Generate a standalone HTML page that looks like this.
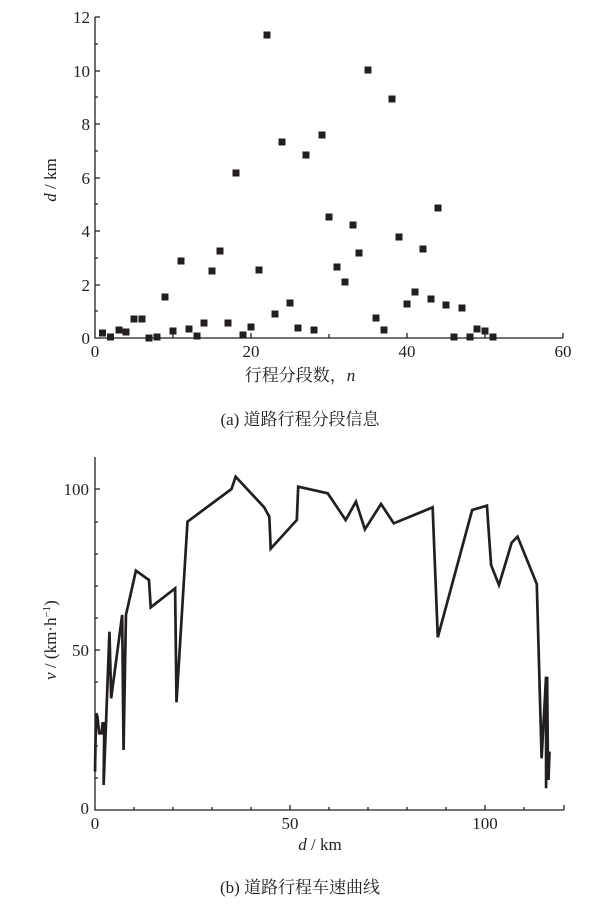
<!DOCTYPE html>
<html><head><meta charset="utf-8"><style>
body{margin:0;background:#fff;}
svg{display:block;font-family:"Liberation Serif","Noto Serif CJK SC",serif;}
.c{font-family:"Liberation Serif","Noto Serif CJK SC","Noto Sans CJK SC",serif;}
</style></head><body>
<svg width="608" height="907" viewBox="0 0 608 907">
<g stroke="#231f20" stroke-width="1.3" fill="none">
<path d="M95,17V338H563"/>
<path d="M95,17h5M95,44h3M95,71h5M95,97h3M95,124h5M95,151h3M95,178h5M95,204h3M95,231h5M95,258h3M95,285h5M95,311h3"/>
<path d="M173,338v-4M251,338v-5M329,338v-4M407,338v-5M485,338v-4M563,338v-5"/>
</g>
<g fill="#231f20" font-size="17">
<text x="90" y="23" text-anchor="end">12</text>
<text x="90" y="77" text-anchor="end">10</text>
<text x="90" y="130" text-anchor="end">8</text>
<text x="90" y="184" text-anchor="end">6</text>
<text x="90" y="237" text-anchor="end">4</text>
<text x="90" y="291" text-anchor="end">2</text>
<text x="90" y="344" text-anchor="end">0</text>
<text x="95" y="357" text-anchor="middle">0</text>
<text x="251" y="357" text-anchor="middle">20</text>
<text x="407" y="357" text-anchor="middle">40</text>
<text x="563" y="357" text-anchor="middle">60</text>
<text transform="translate(56,180) rotate(-90)" text-anchor="middle"><tspan font-style="italic">d</tspan> / km</text>
<text class="c" x="300" y="381" text-anchor="middle">行程分段数，<tspan font-style="italic">n</tspan></text>
<text class="c" x="300" y="425" text-anchor="middle">(a)  道路行程分段信息</text>
</g>
<g stroke="#231f20" stroke-width="1.3" fill="none">
<path d="M95,457V810H564"/>
<path d="M95,489h5M95,522h3M95,554h3M95,586h3M95,618h3M95,650h5M95,682h3M95,714h3M95,746h3M95,778h3"/>
<path d="M134,810v-3M173,810v-3M212,810v-3M251,810v-3M290,810v-5M329,810v-3M368,810v-3M407,810v-3M446,810v-3M485,810v-5M524,810v-3M564,810v-5"/>
</g>
<polyline transform="translate(59.6,450) scale(0.3438,0.3333)" fill="none" stroke="#231f20" stroke-width="2.7" vector-effect="non-scaling-stroke" points="103,965 106,790 110,800 115,850 122,850 125,820 130,820 128,1005 135,820 145,545 150,745 182,495 186,900 193,495 222,362 260,390 265,472 336,415 340,757 372,215 500,117 512,80 595,172 610,200 614,296 690,210 694,110 780,130 832,210 862,155 888,238 935,162 972,220 1085,172 1100,562 1200,180 1243,167 1255,345 1278,405 1315,278 1332,260 1388,402 1402,925 1415,680 1415,1015 1418,680 1420,905 1422,990 1425,905"/>
<g fill="#231f20" font-size="17">
<text x="89" y="495" text-anchor="end">100</text>
<text x="89" y="656" text-anchor="end">50</text>
<text x="89" y="814" text-anchor="end">0</text>
<text x="95" y="829" text-anchor="middle">0</text>
<text x="290" y="829" text-anchor="middle">50</text>
<text x="485" y="829" text-anchor="middle">100</text>
<text transform="translate(56,640) rotate(-90)" text-anchor="middle"><tspan font-style="italic">v</tspan> / (km·h<tspan font-size="11" dy="-6">−1</tspan><tspan dy="6">)</tspan></text>
<text x="320" y="850" text-anchor="middle"><tspan font-style="italic">d</tspan> / km</text>
<text class="c" x="300" y="893" text-anchor="middle">(b)  道路行程车速曲线</text>
</g>
<g fill="#231f20">
<rect x="99" y="329.5" width="7" height="7"/><rect x="107" y="333.5" width="7" height="7"/><rect x="115.5" y="326.5" width="7" height="7"/><rect x="122.5" y="328.5" width="7" height="7"/><rect x="130.5" y="315.5" width="7" height="7"/><rect x="138.5" y="315.5" width="7" height="7"/><rect x="145.5" y="334.5" width="7" height="7"/><rect x="153.5" y="333.5" width="7" height="7"/><rect x="161.5" y="293.5" width="7" height="7"/><rect x="169.5" y="327.5" width="7" height="7"/><rect x="177.5" y="257.5" width="7" height="7"/><rect x="185.5" y="325.5" width="7" height="7"/><rect x="193.5" y="332.5" width="7" height="7"/><rect x="200.5" y="319.5" width="7" height="7"/><rect x="208.5" y="267.5" width="7" height="7"/><rect x="216.5" y="247.5" width="7" height="7"/><rect x="224.5" y="319.5" width="7" height="7"/><rect x="232.5" y="169.5" width="7" height="7"/><rect x="239.5" y="331.5" width="7" height="7"/><rect x="247.5" y="323.5" width="7" height="7"/><rect x="255.5" y="266.5" width="7" height="7"/><rect x="263.5" y="31.5" width="7" height="7"/><rect x="271.5" y="310.5" width="7" height="7"/><rect x="278.5" y="138.5" width="7" height="7"/><rect x="286.5" y="299.5" width="7" height="7"/><rect x="294.5" y="324.5" width="7" height="7"/><rect x="302.5" y="151.5" width="7" height="7"/><rect x="310.5" y="326.5" width="7" height="7"/><rect x="318.5" y="131.5" width="7" height="7"/><rect x="325.5" y="213.5" width="7" height="7"/><rect x="333.5" y="263.5" width="7" height="7"/><rect x="341.5" y="278.5" width="7" height="7"/><rect x="349.5" y="221.5" width="7" height="7"/><rect x="355.5" y="249.5" width="7" height="7"/><rect x="364.5" y="66.5" width="7" height="7"/><rect x="388.5" y="95.5" width="7" height="7"/><rect x="372.5" y="314.5" width="7" height="7"/><rect x="380.5" y="326.5" width="7" height="7"/><rect x="395.5" y="233.5" width="7" height="7"/><rect x="403.5" y="300.5" width="7" height="7"/><rect x="411.5" y="288.5" width="7" height="7"/><rect x="419.5" y="245.5" width="7" height="7"/><rect x="427.5" y="295.5" width="7" height="7"/><rect x="434.5" y="204.5" width="7" height="7"/><rect x="442.5" y="301.5" width="7" height="7"/><rect x="450.5" y="333.5" width="7" height="7"/><rect x="458.5" y="304.5" width="7" height="7"/><rect x="466.5" y="333.5" width="7" height="7"/><rect x="473.5" y="325.5" width="7" height="7"/><rect x="481.5" y="327.5" width="7" height="7"/><rect x="489.5" y="333.5" width="7" height="7"/>
</g>
</svg>
</body></html>
